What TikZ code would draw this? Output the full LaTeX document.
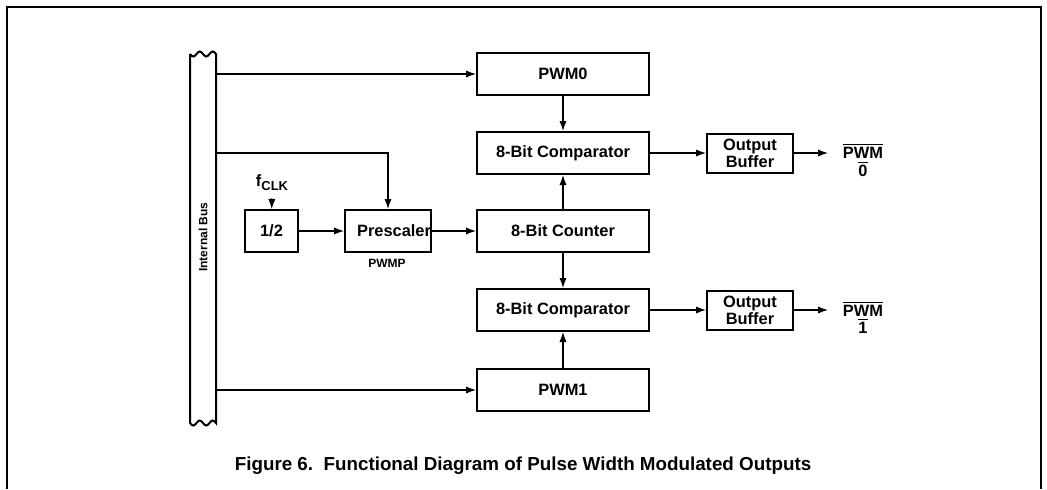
\documentclass[tikz,border=0pt]{standalone}
\usepackage{fontspec}
\setmainfont{Liberation Sans}
\usetikzlibrary{arrows.meta,positioning}

\begin{document}
\begin{tikzpicture}
  [x=0.5pt,y=-0.5pt,semithick,>={Latex[length=5pt,width=3.6pt]},
   font=\fontsize{8.2}{9.5}\selectfont\bfseries]
  \tikzstyle{block}=[draw,line width=1pt,inner sep=0pt,minimum height=21pt]
  \tikzstyle{wide}=[block,minimum width=86pt]
  \tikzstyle{small}=[font=\fontsize{6}{7}\selectfont\bfseries]

  \useasboundingbox (0,0) rectangle (1047,489);
  \draw[line width=1.2pt] (7,489) -- (7,7) -- (1041,7) -- (1041,489);

  % internal bus with broken ends
  \draw[line width=1pt] (190,54) -- (190,423)
    sin (193.25,425.5) cos (196.5,423) sin (199.75,420.5) cos (203,423)
    sin (206.25,425.5) cos (209.5,423) sin (212.75,420.5) cos (216,423)
    -- (216,54)
    sin (212.75,51.5) cos (209.5,54) sin (206.25,56.5) cos (203,54)
    sin (199.75,51.5) cos (196.5,54) sin (193.25,56.5) cos (190,54);
  \node[small,rotate=90] (bus) at (203,237) {Internal Bus};
  \coordinate (b0) at (216,74);
  \coordinate (b1) at (216,153);
  \coordinate (b2) at (216,390);

  \node[wide] (pwm0) at (563,74) {PWM0};
  \node[wide] (cmp0) at (563,153) {8-Bit Comparator};
  \node[wide] (cnt) at (563,231) {8-Bit Counter};
  \node[wide] (cmp1) at (563,310) {8-Bit Comparator};
  \node[wide] (pwm1) at (563,390) {PWM1};

  \node[block,minimum width=26.5pt] (half) at (271.5,231) {1/2};
  \node[block,text width=43pt,inner xsep=0pt,align=right] (pre) at (388,231) {Prescaler};
  \node[small] (pwmp) at (387,263) {PWMP};
  \node (fclk) at (272,183) {f\raisebox{-2pt}{\fontsize{6.5}{7}\selectfont CLK}};

  \node[block,minimum width=43pt,minimum height=19.5pt,align=center,
        font=\fontsize{8.2}{8.6}\selectfont\bfseries] (buf0) at (750,153) {Output\\Buffer};
  \node[block,minimum width=43pt,minimum height=19.5pt,align=center,
        font=\fontsize{8.2}{8.6}\selectfont\bfseries] (buf1) at (750,310) {Output\\Buffer};
  \coordinate (o0) at (828,153);
  \coordinate (o1) at (828,310);
  \node[align=center,font=\fontsize{8.2}{7.6}\selectfont\bfseries] (out0) at (863,160)
    {$\overline{\mbox{PWM}}$\\$\overline{\mbox{0}}$};
  \node[align=center,font=\fontsize{8.2}{7.6}\selectfont\bfseries] (out1) at (863,317)
    {$\overline{\mbox{PWM}}$\\$\overline{\mbox{1}}$};

  \path[->]
  (b0) edge (pwm0)
  (b2) edge (pwm1)
  (b1) edge[to path={-| (\tikztotarget)}] (pre.north)
  (fclk) edge (half)
  (half) edge (pre)
  (pre) edge (cnt)
  (pwm0) edge (cmp0)
  (cnt) edge (cmp0)
  (cnt) edge (cmp1)
  (pwm1) edge (cmp1)
  (cmp0) edge (buf0)
  (cmp1) edge (buf1)
  (buf0) edge (o0)
  (buf1) edge (o1)
  ;

  \node[font=\fontsize{9.4}{11}\selectfont\bfseries] (cap) at (523,466)
    {Figure 6.\ \ Functional Diagram of Pulse Width Modulated Outputs};
\end{tikzpicture}
\end{document}
